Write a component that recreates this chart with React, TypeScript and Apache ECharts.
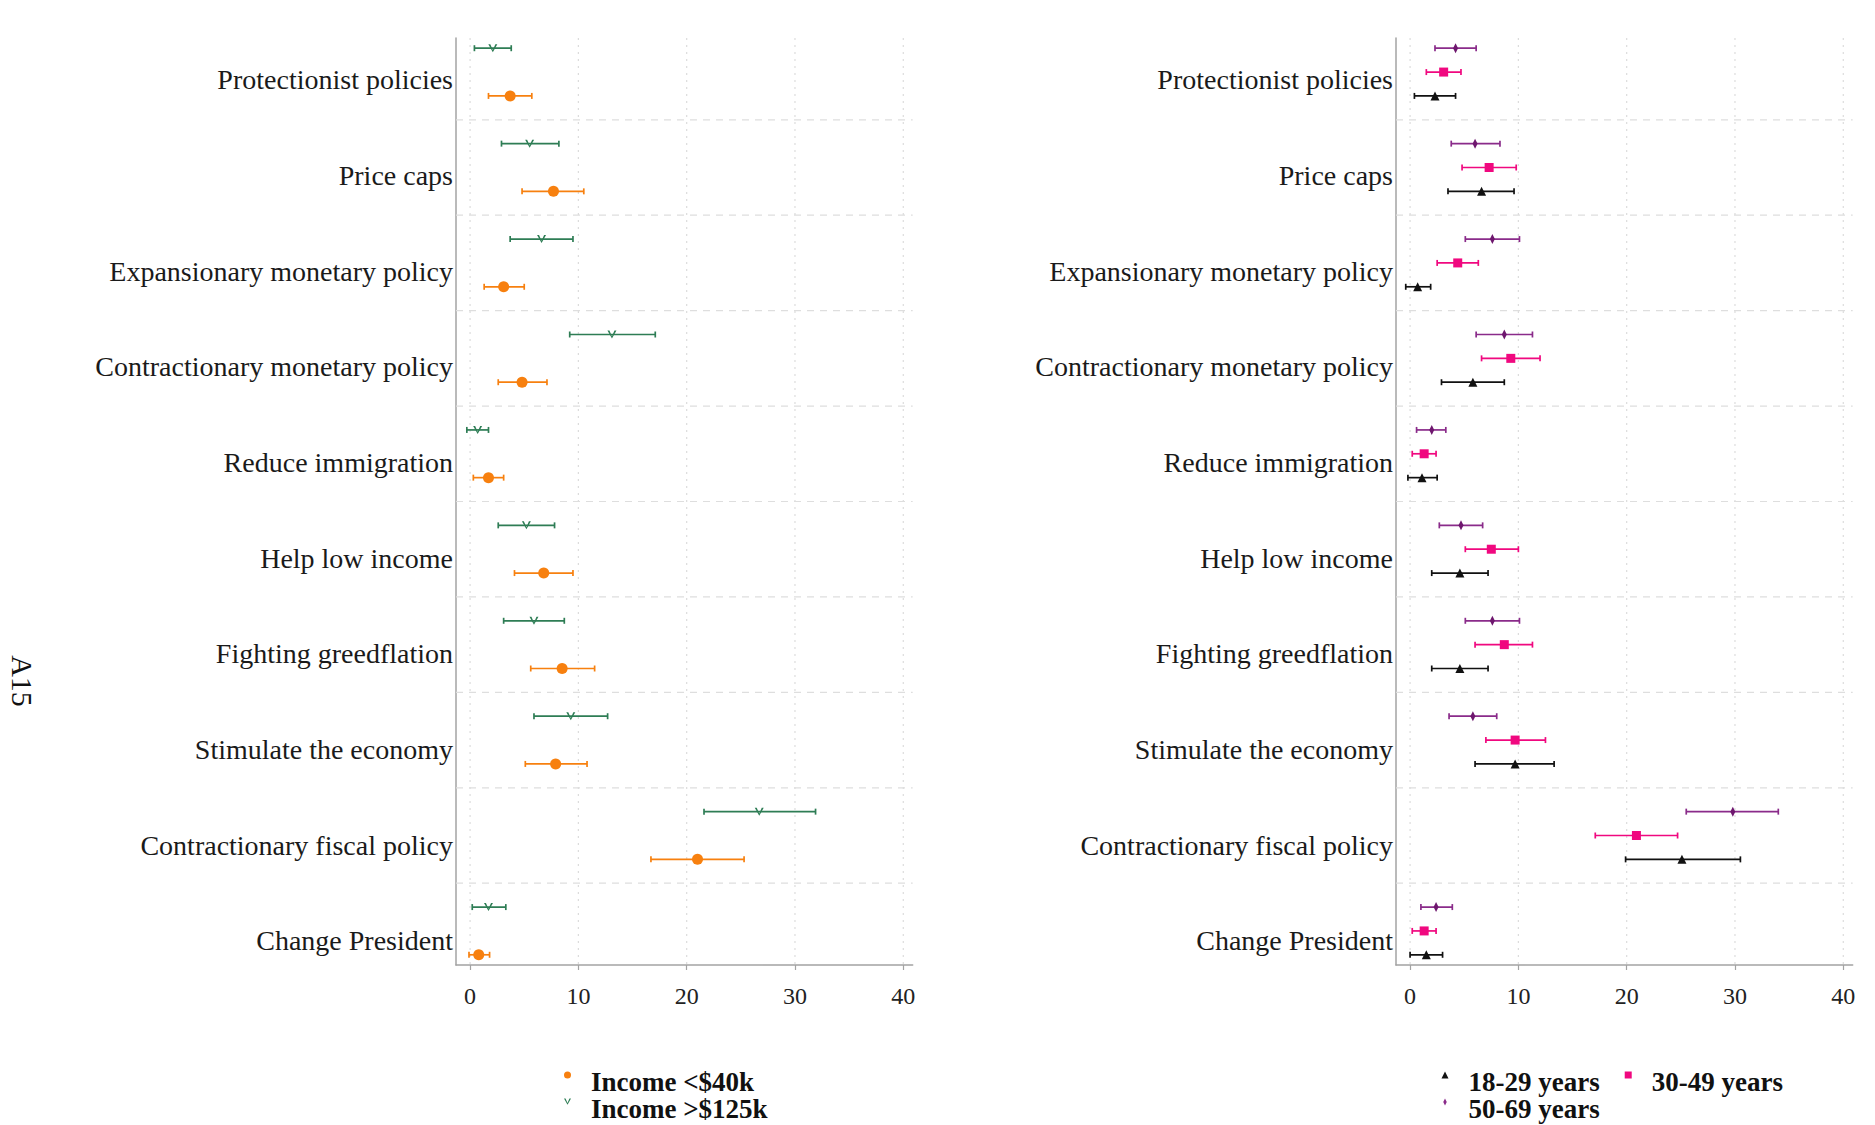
import React, { useEffect, useRef } from "react";
import * as echarts from "echarts";

// ---------- data ----------
const categories = [
  "Protectionist policies",
  "Price caps",
  "Expansionary monetary policy",
  "Contractionary monetary policy",
  "Reduce immigration",
  "Help low income",
  "Fighting greedflation",
  "Stimulate the economy",
  "Contractionary fiscal policy",
  "Change President",
];

const xTicks = [0, 10, 20, 30, 40];
const separators = [1.5, 2.5, 3.5, 4.5, 5.5, 6.5, 7.5, 8.5, 9.5];

// Income < $40k (orange)
const lowIncPt = [3.7, 7.7, 3.1, 4.8, 1.7, 6.8, 8.5, 7.9, 21.0, 0.8];
const lowIncLo = [1.7, 4.8, 1.3, 2.6, 0.3, 4.1, 5.6, 5.1, 16.7, -0.1];
const lowIncHi = [5.7, 10.5, 5.0, 7.1, 3.1, 9.5, 11.5, 10.8, 25.3, 1.8];

// Income > $125k (green)
const highIncPt = [2.1, 5.5, 6.6, 13.1, 0.7, 5.2, 5.9, 9.3, 26.7, 1.7];
const highIncLo = [0.4, 2.9, 3.7, 9.2, -0.3, 2.6, 3.1, 5.9, 21.6, 0.2];
const highIncHi = [3.8, 8.2, 9.5, 17.1, 1.7, 7.8, 8.7, 12.7, 31.9, 3.3];

// 18-29 years (black)
const age18Pt = [2.3, 6.6, 0.7, 5.8, 1.1, 4.6, 4.6, 9.7, 25.1, 1.5];
const age18Lo = [0.4, 3.5, -0.4, 2.9, -0.2, 2.0, 2.0, 6.0, 19.9, 0.0];
const age18Hi = [4.2, 9.6, 1.9, 8.7, 2.5, 7.2, 7.2, 13.3, 30.5, 3.0];

// 30-49 years (pink)
const age30Pt = [3.1, 7.3, 4.4, 9.3, 1.3, 7.5, 8.7, 9.7, 20.9, 1.3];
const age30Lo = [1.5, 4.8, 2.5, 6.6, 0.2, 5.1, 6.0, 7.0, 17.1, 0.2];
const age30Hi = [4.7, 9.8, 6.3, 12.0, 2.4, 10.0, 11.3, 12.5, 24.7, 2.4];

// 50-69 years (purple)
const age50Pt = [4.2, 6.0, 7.6, 8.7, 2.0, 4.7, 7.6, 5.8, 29.8, 2.4];
const age50Lo = [2.3, 3.8, 5.1, 6.1, 0.6, 2.7, 5.1, 3.6, 25.5, 1.0];
const age50Hi = [6.1, 8.3, 10.1, 11.3, 3.3, 6.7, 10.1, 8.0, 34.0, 3.9];

// ---------- styling ----------
const SERIF = '"Liberation Serif", "Times New Roman", serif';
const AXIS_GRAY = "#a3a3a3";
const C_ORANGE = "#f7800f";
const C_GREEN = "#2e7d55";
const C_BLACK = "#111111";
const C_PINK = "#f0087f";
const C_PURPLE = "#8a2b8a";
const V_PATH = "path://M0,0L2.2,0L5,6.5L7.8,0L10,0L5,9Z";

// legend icons: shape in the top 10 units, invisible move-to extends the box downward
const ICON_CIRCLE = "path://M0,5A5,5,0,1,1,10,5A5,5,0,1,1,0,5ZM5,30";
const ICON_V = "path://M0,0L2.2,0L5,6.5L7.8,0L10,0L5,9ZM5,30";
const ICON_TRI = "path://M5,0L10,10L0,10ZM5,30";
const ICON_RECT = "path://M0,0L10,0L10,10L0,10ZM5,30";
const ICON_DIAM = "path://M5,0L7.5,5L5,10L2.5,5ZM0,30M10,30";

const X_MIN = -1.3;
const X_MAX = 40.87;
const Y_MIN = 0.643;
const Y_MAX = 10.357;

function errorBarSeries(name: string, color: string, lo: number[], hi: number[], offset: number, axisIdx: number) {
  return {
    type: "custom",
    name,
    xAxisIndex: axisIdx,
    yAxisIndex: axisIdx,
    z: 3,
    encode: { x: [0, 1], y: 2 },
    data: lo.map((l, i) => [l, hi[i], i + 1 + offset]),
    renderItem: (params: any, api: any) => {
      const y = api.value(2);
      const p1 = api.coord([api.value(0), y]);
      const p2 = api.coord([api.value(1), y]);
      const h = 3;
      const st = { stroke: color, lineWidth: 1.7 };
      return {
        type: "group",
        children: [
          { type: "line", shape: { x1: p1[0], y1: p1[1], x2: p2[0], y2: p2[1] }, style: st },
          { type: "line", shape: { x1: p1[0], y1: p1[1] - h, x2: p1[0], y2: p1[1] + h }, style: st },
          { type: "line", shape: { x1: p2[0], y1: p2[1] - h, x2: p2[0], y2: p2[1] + h }, style: st },
        ],
      };
    },
  };
}

function pointSeries(name: string, color: string, pt: number[], offset: number, axisIdx: number, symbol: string, size: any) {
  return {
    type: "scatter",
    name,
    xAxisIndex: axisIdx,
    yAxisIndex: axisIdx,
    z: 4,
    symbol,
    symbolSize: size,
    itemStyle: { color, opacity: 1 },
    data: pt.map((v, i) => [v, i + 1 + offset]),
  };
}

function gridLineSeries(axisIdx: number) {
  return [
    {
      type: "custom",
      xAxisIndex: axisIdx,
      yAxisIndex: axisIdx,
      z: 1,
      silent: true,
      data: xTicks.map((v) => [v, 5]),
      renderItem: (params: any, api: any) => {
        const cs = params.coordSys;
        const x = api.coord([api.value(0), 5])[0];
        return {
          type: "line",
          shape: { x1: x, y1: cs.y, x2: x, y2: cs.y + cs.height },
          style: { stroke: "#dcdcdc", lineWidth: 1.2, lineDash: [2, 5] },
        };
      },
    },
    {
      type: "custom",
      xAxisIndex: axisIdx,
      yAxisIndex: axisIdx,
      z: 1,
      silent: true,
      data: separators.map((s) => [0, s]),
      renderItem: (params: any, api: any) => {
        const cs = params.coordSys;
        const y = api.coord([0, api.value(1)])[1];
        return {
          type: "line",
          shape: { x1: cs.x, y1: y, x2: cs.x + cs.width, y2: y },
          style: { stroke: "#dedede", lineWidth: 1.2, lineDash: [7, 6] },
        };
      },
    },
  ];
}

function dataXAxis(gridIndex: number) {
  return {
    type: "value",
    gridIndex,
    min: X_MIN,
    max: X_MAX,
    axisLine: { show: true, onZero: false, lineStyle: { color: AXIS_GRAY, width: 1.5 } },
    axisTick: { show: true, customValues: xTicks, length: 5, lineStyle: { color: AXIS_GRAY, width: 1.2 } },
    axisLabel: { show: true, customValues: xTicks, fontSize: 24, fontFamily: SERIF, color: "#222", margin: 19 },
    splitLine: { show: false },
  };
}

function labelXAxis(gridIndex: number) {
  return { type: "value", gridIndex, min: X_MIN, max: X_MAX, show: false };
}

function dataYAxis(gridIndex: number) {
  return {
    type: "value",
    gridIndex,
    min: Y_MIN,
    max: Y_MAX,
    inverse: true,
    axisLine: { show: true, onZero: false, lineStyle: { color: AXIS_GRAY, width: 1.5 } },
    axisTick: { show: false },
    axisLabel: { show: false },
    splitLine: { show: false },
  };
}

function labelYAxis(gridIndex: number) {
  return {
    type: "category",
    gridIndex,
    data: categories,
    inverse: true,
    boundaryGap: true,
    axisLine: { show: false },
    axisTick: { show: false },
    splitLine: { show: false },
    axisLabel: {
      fontSize: 28,
      fontFamily: SERIF,
      color: "#1a1a1a",
      margin: 3,
    },
  };
}

function legendOne(left: number, top: number, items: any[], gap = 16) {
  return {
    orient: "horizontal",
    left,
    top,
    padding: 0,
    itemGap: gap,
    itemWidth: 7,
    itemHeight: 21,
    selectedMode: false,
    data: items,
    textStyle: {
      fontFamily: SERIF,
      fontWeight: "bold",
      fontSize: 27,
      color: "#111",
      lineHeight: 27,
      padding: [0, 0, 0, 15],
    },
  };
}

export default function App() {
  const ref = useRef<HTMLDivElement>(null);

  useEffect(() => {
    if (!ref.current) return;
    const chart = echarts.init(ref.current, null, { renderer: "svg" });
    const option: any = {
      animation: false,
      backgroundColor: "#ffffff",
      grid: [
        { left: 456, top: 38, width: 456.7, height: 927 },
        { left: 456, top: 31.8, width: 456.7, height: 957 },
        { left: 1396, top: 38, width: 456.7, height: 927 },
        { left: 1396, top: 31.8, width: 456.7, height: 957 },
      ],
      xAxis: [dataXAxis(0), labelXAxis(1), dataXAxis(2), labelXAxis(3)],
      yAxis: [dataYAxis(0), labelYAxis(1), dataYAxis(2), labelYAxis(3)],
      legend: [
        legendOne(564, 1068.5, [{ name: "Income <$40k", icon: ICON_CIRCLE, itemStyle: { color: C_ORANGE } }]),
        legendOne(564, 1095.5, [{ name: "Income >$125k", icon: ICON_V, itemStyle: { color: C_GREEN } }]),
        legendOne(
          1441.5,
          1068.5,
          [
            { name: "18-29 years", icon: ICON_TRI, itemStyle: { color: C_BLACK } },
            { name: "30-49 years", icon: ICON_RECT, itemStyle: { color: C_PINK } },
          ],
          25
        ),
        legendOne(1441.5, 1095.5, [{ name: "50-69 years", icon: ICON_DIAM, itemStyle: { color: C_PURPLE } }]),
      ],
      graphic: [
        {
          type: "text",
          x: 22,
          y: 681,
          rotation: -Math.PI / 2,
          style: {
            text: "A15",
            fontSize: 30,
            fontFamily: SERIF,
            fill: "#111",
            align: "center",
            verticalAlign: "middle",
          },
        },
      ],
      series: [
        ...gridLineSeries(0),
        ...gridLineSeries(2),
        errorBarSeries("Income >$125k", C_GREEN, highIncLo, highIncHi, -0.25, 0),
        pointSeries("Income >$125k", C_GREEN, highIncPt, -0.25, 0, V_PATH, [9, 8]),
        errorBarSeries("Income <$40k", C_ORANGE, lowIncLo, lowIncHi, 0.25, 0),
        pointSeries("Income <$40k", C_ORANGE, lowIncPt, 0.25, 0, "circle", 11),
        errorBarSeries("50-69 years", C_PURPLE, age50Lo, age50Hi, -0.25, 2),
        pointSeries("50-69 years", "#6e176e", age50Pt, -0.25, 2, "diamond", [5, 10]),
        errorBarSeries("30-49 years", C_PINK, age30Lo, age30Hi, 0, 2),
        pointSeries("30-49 years", C_PINK, age30Pt, 0, 2, "rect", 9),
        errorBarSeries("18-29 years", C_BLACK, age18Lo, age18Hi, 0.25, 2),
        pointSeries("18-29 years", C_BLACK, age18Pt, 0.25, 2, "triangle", 9),
      ],
    };
    chart.setOption(option);
    return () => chart.dispose();
  }, []);

  return (
    <div
      ref={ref}
      style={{ position: "absolute", left: 0, top: 0, width: 1875, height: 1125, background: "#fff" }}
    />
  );
}
